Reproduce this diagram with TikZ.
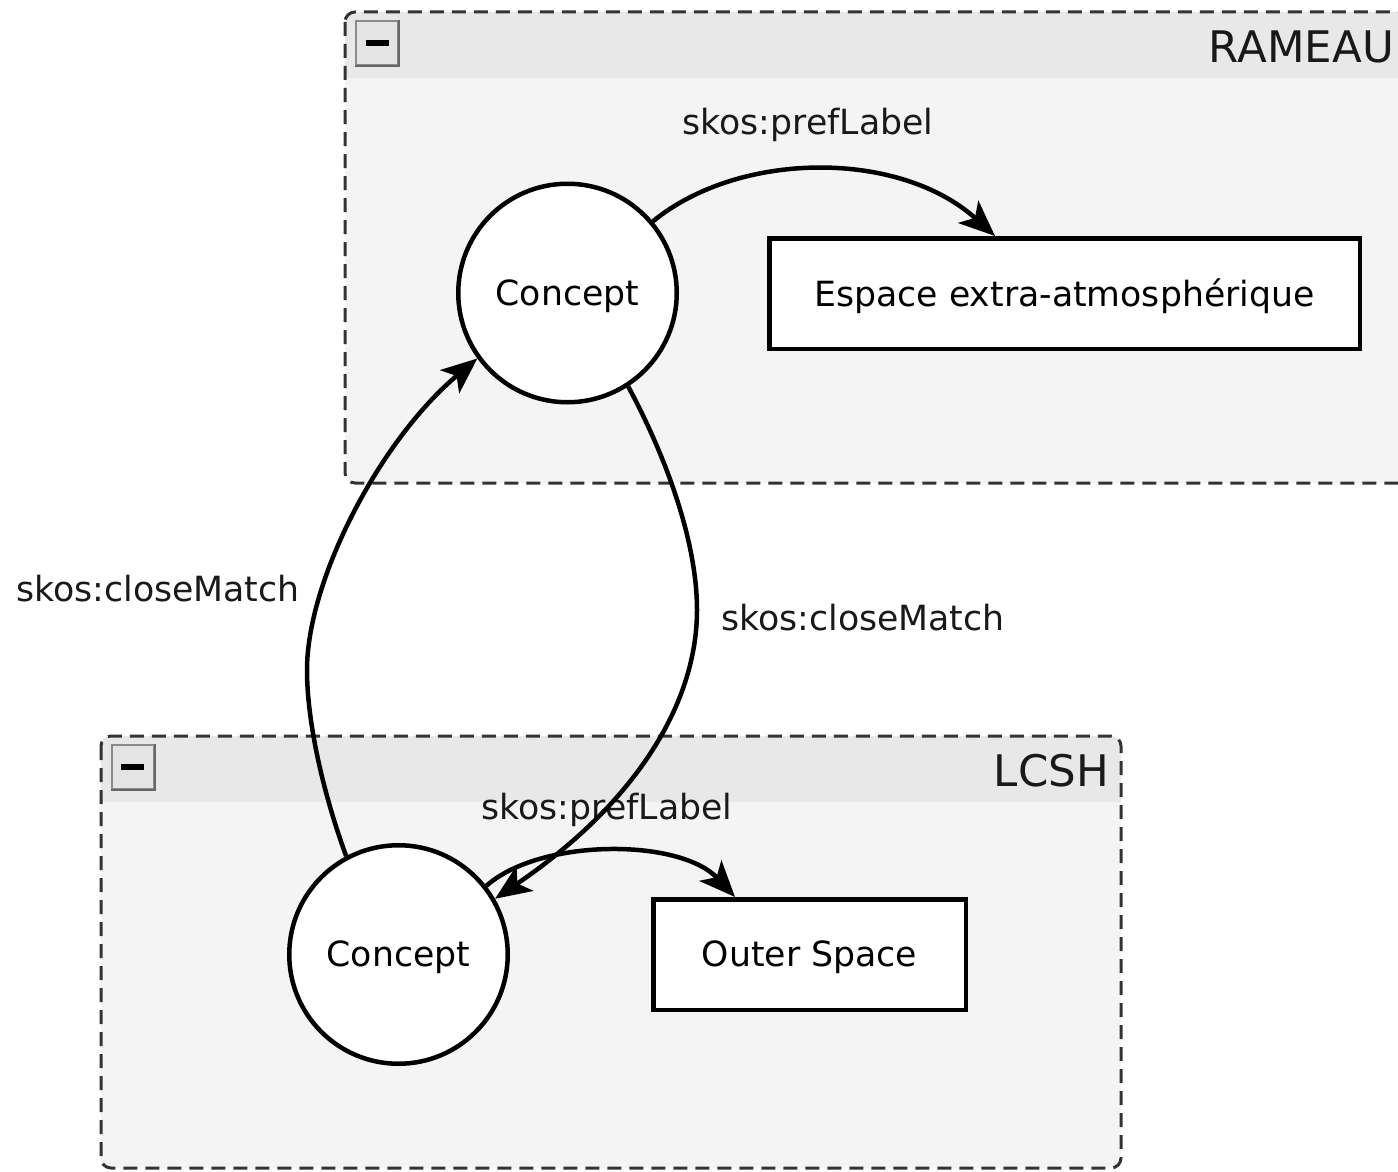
\documentclass[tikz,border=0pt]{standalone}
\usepackage{fontspec}
\setmainfont{DejaVu Sans}
\usetikzlibrary{arrows.meta,calc}
\definecolor{bodybg}{HTML}{F4F4F4}
\definecolor{headbg}{HTML}{E8E8E8}
\definecolor{btnbg}{HTML}{E4E4E4}
\definecolor{btnedge}{HTML}{8A8A8A}
\definecolor{grpedge}{HTML}{333333}
\newcommand{\dn}[1]{\raisebox{-3pt}[\height][\depth]{#1}}
\tikzset{
  txt/.style={font=\fontsize{34.7}{40}\selectfont},
  concept/.style={circle, draw, line width=4.5pt, fill=white, minimum size=218.5pt, inner sep=0pt, txt},
  literal/.style={rectangle, draw, line width=4.5pt, fill=white, minimum height=110.5pt, inner sep=0pt, txt},
  rel/.style={line width=4.5pt, -{Stealth[length=36pt,width=30pt,inset=9pt]}},
  lbl/.style={inner sep=0pt, txt, text=black!90},
  grptitle/.style={inner sep=0pt, font=\fontsize{43.5}{50}\selectfont, text=black!90},
  grpborder/.style={draw=grpedge, line width=3pt, dash pattern=on 14pt off 8pt, rounded corners=10pt},
  btn/.style={rectangle, draw=btnedge, line width=2pt, fill=btnbg, minimum width=42pt, minimum height=44pt, inner sep=0pt},
}
\begin{document}
\begin{tikzpicture}[x=1pt,y=-1pt]
\useasboundingbox (0,0) rectangle (1398,1172);
\clip (0,0) rectangle (1398,1172);
\fill[white] (0,0) rectangle (1398,1172);
% RAMEAU group
\begin{scope}
  \clip[rounded corners=10pt] (345,12) rectangle (1420,483);
  \fill[bodybg] (345,12) rectangle (1420,483);
  \fill[headbg] (345,12) rectangle (1420,78);
\end{scope}
\draw[grpborder] (345,12) rectangle (1420,483);
\node[btn] (bR) at (377,43.5) {};
\draw[black!60, line width=2pt] (bR.north east) -- (bR.south east) -- (bR.south west);
\fill[black] ($(bR.center)+(-11.5,-3)$) rectangle ($(bR.center)+(11.5,3)$);
\node[grptitle, anchor=east] (tR) at (1394,47) {RAMEAU};
% LCSH group
\begin{scope}
  \clip[rounded corners=10pt] (101,736) rectangle (1121,1168);
  \fill[bodybg] (101,736) rectangle (1121,1168);
  \fill[headbg] (101,736) rectangle (1121,802);
\end{scope}
\draw[grpborder] (101,736) rectangle (1121,1168);
\node[btn] (bL) at (132.5,766.5) {};
\draw[black!60, line width=2pt] (bL.north east) -- (bL.south east) -- (bL.south west);
\fill[black] ($(bL.center)+(-11.5,-3)$) rectangle ($(bL.center)+(11.5,3)$);
\node[grptitle, anchor=east] (tL) at (1109,771) {LCSH};
% nodes
\node[concept] (c1) at (567.5,293) {\dn{Concept}};
\node[literal, minimum width=590.5pt] (e1) at (1064.5,293.5) {\dn{Espace extra-atmosphérique}};
\node[concept] (c2) at (398.5,954.5) {\dn{Concept}};
\node[literal, minimum width=312.5pt] (e2) at (809.5,954.5) {\dn{Outer Space}};
% labels
\node[lbl] (l1) at (808,125) {skos:prefLabel};
\node[lbl] (l2) at (158,589) {skos:closeMatch};
\node[lbl] (l3) at (863,618) {skos:closeMatch};
\node[lbl] (l4) at (607,810) {skos:prefLabel};
% edges
\draw[rel] (c1.40) .. controls (740,150) and (900,150) .. ($(e1.north west)+(228,0)$);
\draw[rel] (c2.38) .. controls (540,838) and (680,838) .. ($(e2.north west)+(84,0)$);
\draw[rel] (c2.118) .. controls (322,790) and (307,720) .. (307,670) .. controls (307,580) and (380,440) .. (c1.216);
\draw[rel] (c1.-57) .. controls (665,455) and (697,540) .. (697,610) .. controls (697,700) and (640,800) .. (c2.30);
\end{tikzpicture}
\end{document}
